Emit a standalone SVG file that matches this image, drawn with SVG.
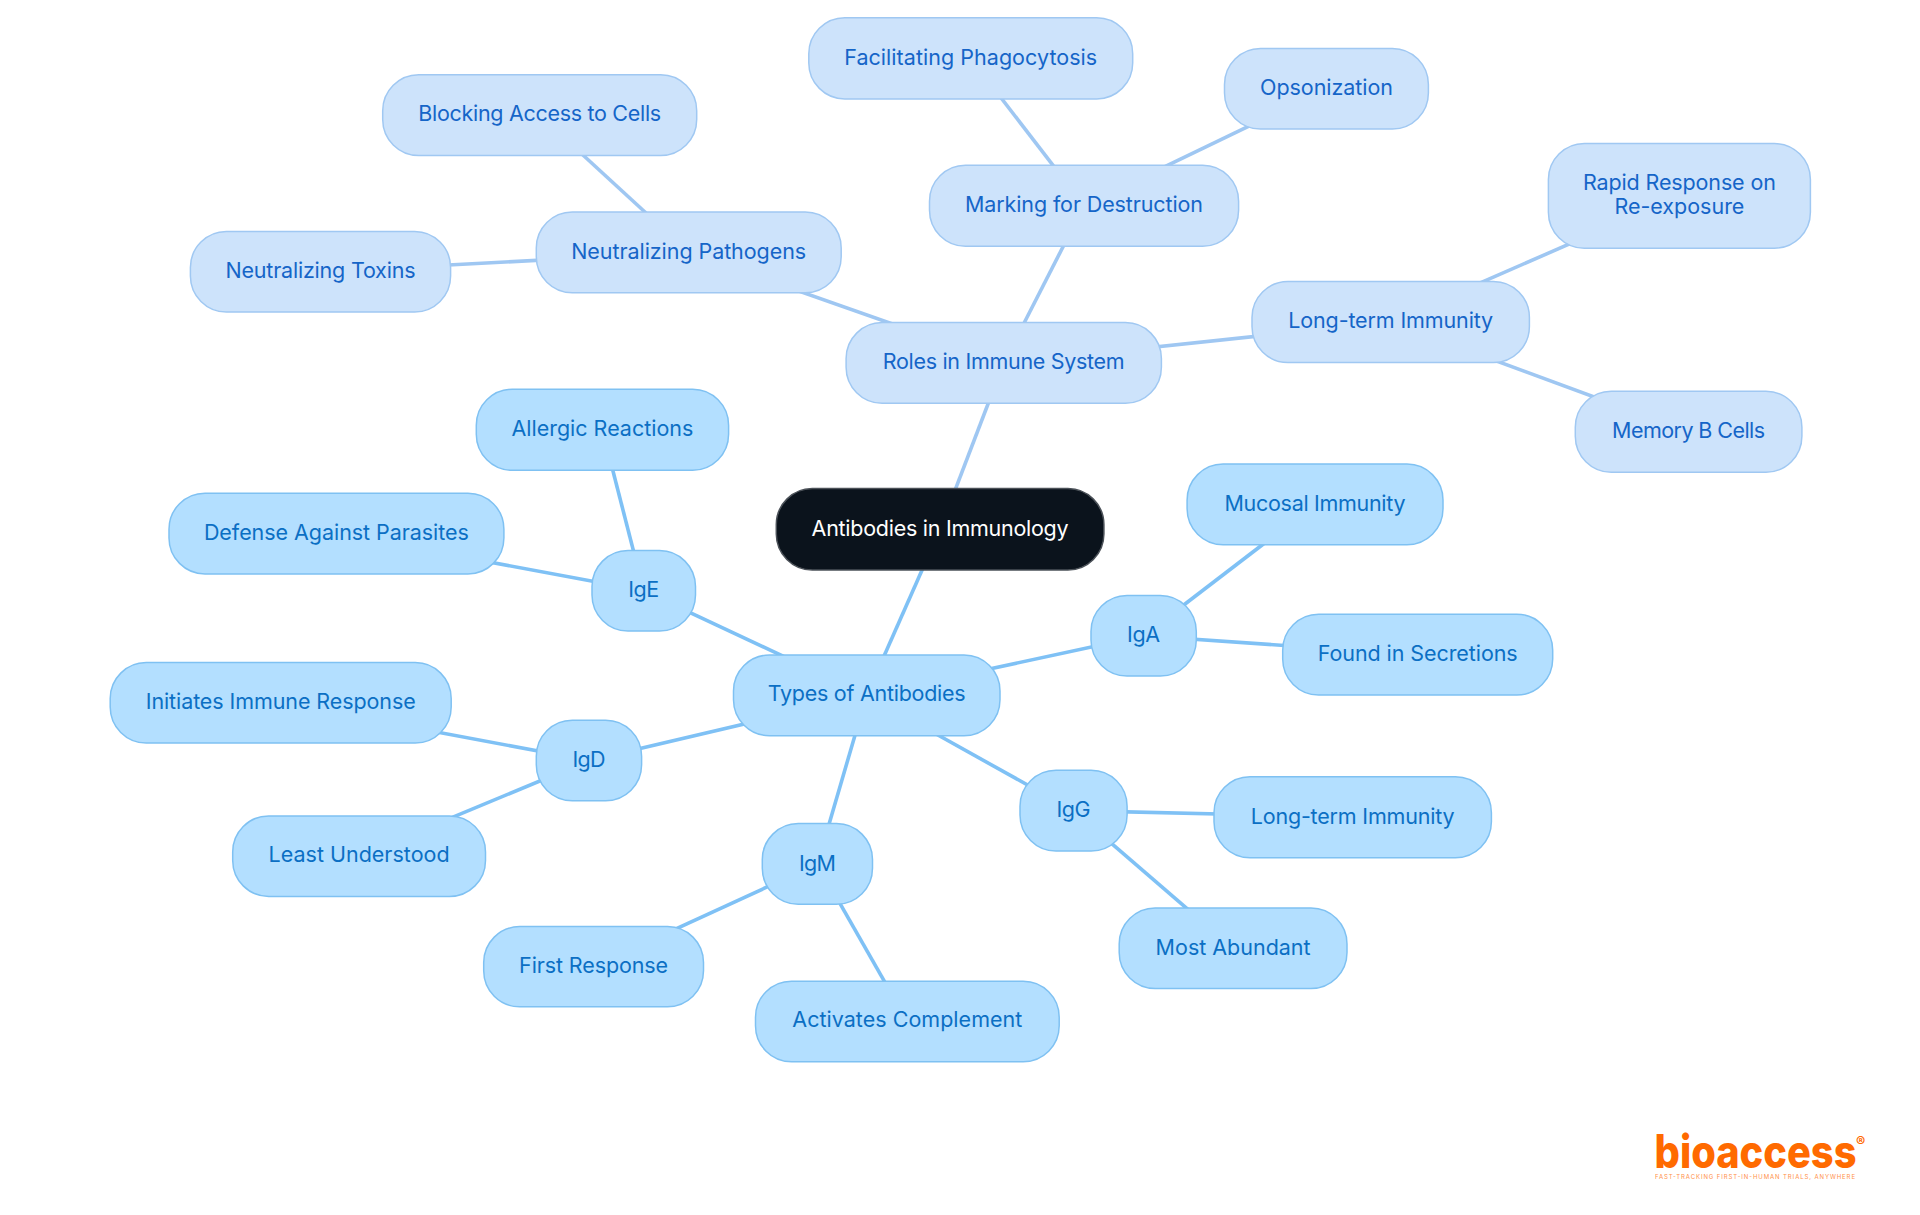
<svg xmlns="http://www.w3.org/2000/svg" width="1920" height="1215" viewBox="0 0 1920 1215">
<style>
text{font-family:"Inter","Noto Sans","Liberation Sans",sans-serif;font-size:21.5px;text-anchor:middle}
.b rect{fill:#b3dfff;stroke:#7fc1f2;stroke-width:1.5}
.b text{fill:#0b6fc4}
.l rect{fill:#cde3fb;stroke:#a0c8f2;stroke-width:1.5}
.l text{fill:#1565c8}
.r rect{fill:#0b131c;stroke:#4b5158;stroke-width:1.5}
.r text{fill:#fff}
#connectors line{stroke-width:3.6;fill:none}
.eb{stroke:#7fc1f5}
.el{stroke:#9fc7f2}
#logo text{fill:#ff6a00;text-anchor:start}
</style>
<rect width="1920" height="1215" fill="#fff"/>
<g id="connectors">
<line class="eb" x1="940.100" y1="529.300" x2="866.700" y2="695.300"/>
<line class="el" x1="940.100" y1="529.300" x2="1003.700" y2="363"/>
<line class="el" x1="1003.700" y1="363" x2="688.700" y2="252.300"/>
<line class="el" x1="1003.700" y1="363" x2="1084" y2="205.700"/>
<line class="el" x1="1003.700" y1="363" x2="1390.700" y2="322"/>
<line class="el" x1="688.700" y1="252.300" x2="539.700" y2="115.200"/>
<line class="el" x1="688.700" y1="252.300" x2="320.500" y2="271.800"/>
<line class="el" x1="1084" y1="205.700" x2="970.700" y2="58.300"/>
<line class="el" x1="1084" y1="205.700" x2="1326.500" y2="88.800"/>
<line class="el" x1="1390.700" y1="322" x2="1679.400" y2="195.900"/>
<line class="el" x1="1390.700" y1="322" x2="1688.600" y2="431.800"/>
<line class="eb" x1="866.700" y1="695.300" x2="643.700" y2="590.800"/>
<line class="eb" x1="866.700" y1="695.300" x2="1143.600" y2="635.800"/>
<line class="eb" x1="866.700" y1="695.300" x2="589" y2="760.500"/>
<line class="eb" x1="866.700" y1="695.300" x2="817.400" y2="863.900"/>
<line class="eb" x1="866.700" y1="695.300" x2="1073.500" y2="810.600"/>
<line class="eb" x1="643.700" y1="590.800" x2="602.400" y2="429.800"/>
<line class="eb" x1="643.700" y1="590.800" x2="336.400" y2="533.600"/>
<line class="eb" x1="1143.600" y1="635.800" x2="1315" y2="504.400"/>
<line class="eb" x1="1143.600" y1="635.800" x2="1417.700" y2="654.700"/>
<line class="eb" x1="589" y1="760.500" x2="280.700" y2="702.800"/>
<line class="eb" x1="589" y1="760.500" x2="359.100" y2="856.100"/>
<line class="eb" x1="817.400" y1="863.900" x2="593.600" y2="966.700"/>
<line class="eb" x1="817.400" y1="863.900" x2="907.300" y2="1021.500"/>
<line class="eb" x1="1073.500" y1="810.600" x2="1352.700" y2="817.200"/>
<line class="eb" x1="1073.500" y1="810.600" x2="1233.100" y2="948.300"/>
</g>
<g id="root" class="r"><rect x="776.300" y="488.600" width="327.600" height="81.400" rx="36"/><text x="940.100" y="535.500" textLength="257">Antibodies in Immunology</text></g>
<g id="types" class="b"><rect x="733.500" y="655" width="266.500" height="80.700" rx="36"/><text x="866.700" y="700.500" textLength="198">Types of Antibodies</text></g>
<g id="roles" class="l"><rect x="846.100" y="322.600" width="315.300" height="80.700" rx="36"/><text x="1003.700" y="368.500" textLength="242">Roles in Immune System</text></g>
<g id="neutralizing-pathogens" class="l"><rect x="536.300" y="212" width="304.900" height="80.700" rx="36"/><text x="688.700" y="259" textLength="235">Neutralizing Pathogens</text></g>
<g id="blocking" class="l"><rect x="382.700" y="74.800" width="314" height="80.700" rx="36"/><text x="539.700" y="121" textLength="243">Blocking Access to Cells</text></g>
<g id="toxins" class="l"><rect x="190.400" y="231.500" width="260.200" height="80.600" rx="36"/><text x="320.500" y="278" textLength="190">Neutralizing Toxins</text></g>
<g id="marking" class="l"><rect x="929.500" y="165.200" width="309.100" height="81" rx="36"/><text x="1084" y="212" textLength="238">Marking for Destruction</text></g>
<g id="phagocytosis" class="l"><rect x="808.800" y="17.800" width="323.900" height="81.100" rx="36"/><text x="970.700" y="65" textLength="253">Facilitating Phagocytosis</text></g>
<g id="opsonization" class="l"><rect x="1224.500" y="48.500" width="203.900" height="80.600" rx="36"/><text x="1326.500" y="94.500" textLength="133">Opsonization</text></g>
<g id="long-term-1" class="l"><rect x="1252" y="281.500" width="277.400" height="81" rx="36"/><text x="1390.700" y="327.500" textLength="205">Long-term Immunity</text></g>
<g id="rapid" class="l"><rect x="1548.400" y="143.500" width="262" height="104.700" rx="36"/><text x="1679.400" y="190" textLength="193">Rapid Response on</text><text x="1679.400" y="214" textLength="130">Re-exposure</text></g>
<g id="memory" class="l"><rect x="1575.300" y="391.200" width="226.600" height="81.100" rx="36"/><text x="1688.600" y="437.500" textLength="153">Memory B Cells</text></g>
<g id="ige" class="b"><rect x="592" y="550.600" width="103.500" height="80.400" rx="36"/><text x="643.700" y="596.500" textLength="31">IgE</text></g>
<g id="allergic" class="b"><rect x="476.300" y="389.300" width="252.300" height="81" rx="36"/><text x="602.400" y="436" textLength="182">Allergic Reactions</text></g>
<g id="parasites" class="b"><rect x="169" y="493.200" width="334.900" height="80.700" rx="36"/><text x="336.400" y="540" textLength="265">Defense Against Parasites</text></g>
<g id="iga" class="b"><rect x="1091" y="595.500" width="105.300" height="80.600" rx="36"/><text x="1143.600" y="642" textLength="33">IgA</text></g>
<g id="mucosal" class="b"><rect x="1187.100" y="464.100" width="255.900" height="80.700" rx="36"/><text x="1315" y="511" textLength="181">Mucosal Immunity</text></g>
<g id="secretions" class="b"><rect x="1282.700" y="614.200" width="270" height="80.900" rx="36"/><text x="1417.700" y="660.500" textLength="200">Found in Secretions</text></g>
<g id="igd" class="b"><rect x="536.300" y="720.300" width="105.300" height="80.500" rx="36"/><text x="589" y="767" textLength="33">IgD</text></g>
<g id="initiates" class="b"><rect x="110.200" y="662.600" width="341" height="80.500" rx="36"/><text x="280.700" y="709" textLength="270">Initiates Immune Response</text></g>
<g id="least" class="b"><rect x="232.700" y="815.900" width="252.800" height="80.500" rx="36"/><text x="359.100" y="862" textLength="181">Least Understood</text></g>
<g id="igm" class="b"><rect x="762.300" y="823.600" width="110.200" height="80.600" rx="36"/><text x="817.400" y="871" textLength="37">IgM</text></g>
<g id="first" class="b"><rect x="483.700" y="926.600" width="219.800" height="80.200" rx="36"/><text x="593.600" y="973" textLength="149">First Response</text></g>
<g id="complement" class="b"><rect x="755.500" y="981.200" width="303.700" height="80.500" rx="36"/><text x="907.300" y="1027" textLength="230">Activates Complement</text></g>
<g id="igg" class="b"><rect x="1020" y="770.200" width="107.100" height="80.900" rx="36"/><text x="1073.500" y="817" textLength="34">IgG</text></g>
<g id="long-term-2" class="b"><rect x="1214" y="776.800" width="277.400" height="80.900" rx="36"/><text x="1352.700" y="824" textLength="204">Long-term Immunity</text></g>
<g id="abundant" class="b"><rect x="1119.200" y="908" width="227.800" height="80.600" rx="36"/><text x="1233.100" y="955" textLength="155">Most Abundant</text></g>
<g id="logo">
<text x="1654.500" y="1168" style="font-size:46px;font-weight:800" textLength="202" lengthAdjust="spacingAndGlyphs">bioaccess</text>
<text x="1856" y="1147" style="font-size:14px;font-weight:700">®</text>
<text x="1655" y="1179" style="font-size:6px;opacity:.75" textLength="200">FAST-TRACKING FIRST-IN-HUMAN TRIALS, ANYWHERE</text>
</g>
</svg>
